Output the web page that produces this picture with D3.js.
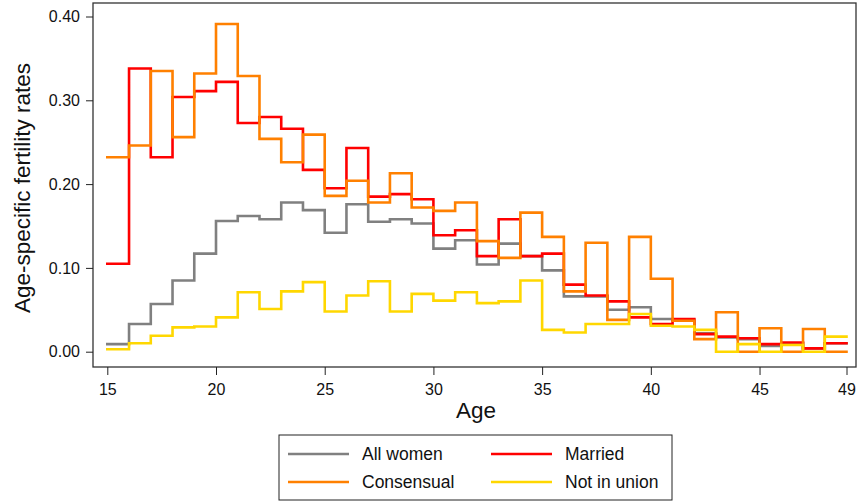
<!DOCTYPE html>
<html><head><meta charset="utf-8">
<script src="https://cdn.jsdelivr.net/npm/d3@7"></script>
<style>body{margin:0;background:#fff}svg{display:block;font-family:"Liberation Sans",Arial,sans-serif}</style>
</head><body><svg id="c" width="859" height="502"></svg>
<script>
const ages = d3.range(15, 49);
const allWomen = [0.009,0.033,0.057,0.085,0.117,0.156,0.162,0.158,0.178,0.169,0.142,0.176,0.155,0.158,0.153,0.123,0.133,0.104,0.129,0.114,0.097,0.066,0.066,0.050,0.053,0.039,0.038,0.022,0.017,0.015,0.007,0.010,0.004,0.010];
const married = [0.105,0.338,0.232,0.304,0.311,0.322,0.273,0.280,0.266,0.217,0.195,0.243,0.185,0.188,0.182,0.139,0.145,0.114,0.158,0.114,0.117,0.080,0.067,0.060,0.041,0.033,0.039,0.021,0.018,0.016,0.009,0.011,0.004,0.010];
const consensual = [0.232,0.246,0.335,0.256,0.332,0.391,0.329,0.254,0.226,0.259,0.186,0.204,0.178,0.213,0.172,0.168,0.178,0.132,0.112,0.166,0.137,0.072,0.130,0.038,0.137,0.087,0.037,0.015,0.047,0.000,0.028,0.000,0.027,0.000];
const notInUnion = [0.003,0.010,0.019,0.029,0.030,0.041,0.071,0.051,0.072,0.083,0.048,0.067,0.084,0.048,0.069,0.061,0.071,0.058,0.060,0.085,0.026,0.023,0.033,0.033,0.045,0.031,0.030,0.026,0.000,0.009,0.000,0.008,0.000,0.018];
const xTicks = [15,20,25,30,35,40,45,49];
const yTicks = [0,0.1,0.2,0.3,0.4];
const seriesNames = ["All women","Married","Consensual","Not in union"];
const seriesColors = ["#808080","#ff0000","#ff8000","#ffd700"];
const seriesData = [allWomen, married, consensual, notInUnion];

const svg = d3.select("#c");
const L = 93, R = 856, T = 3, B = 367;
const x = d3.scaleLinear().domain([15,49]).range([107.3,846.5]);
const y = d3.scaleLinear().domain([0,0.4]).range([351.7,16.5]);
const FF = "Liberation Sans, Arial, sans-serif";

// frame
svg.append("rect").attr("x",L).attr("y",T).attr("width",R-L).attr("height",B-T)
  .attr("fill","none").attr("stroke","#333").attr("stroke-width",1.3);

// y axis
const ya = svg.append("g").attr("transform",`translate(${L},0)`)
  .call(d3.axisLeft(y).tickValues(yTicks).tickFormat(d3.format(".2f")).tickSize(7).tickPadding(6));
ya.select(".domain").remove();
ya.selectAll("line").attr("stroke","#222");
ya.selectAll("text").attr("font-size",16).attr("fill","#111").attr("font-family",FF);

// x axis
const xa = svg.append("g").attr("transform",`translate(0,${B})`)
  .call(d3.axisBottom(x).tickValues(xTicks).tickFormat(d3.format("d")).tickSize(8).tickPadding(9));
xa.select(".domain").remove();
xa.selectAll("line").attr("stroke","#222");
xa.selectAll("text").attr("font-size",16).attr("fill","#111").attr("font-family",FF);

// titles
svg.append("text").attr("transform","translate(30,188) rotate(-90)").attr("text-anchor","middle")
  .attr("font-size",22.5).attr("fill","#111").text("Age-specific fertility rates");
svg.append("text").attr("x",476).attr("y",418).attr("text-anchor","middle")
  .attr("font-size",22.5).attr("fill","#111").text("Age");

// lines
const line = d3.line().x(d=>x(d[0])).y(d=>y(d[1])).curve(d3.curveStepAfter);
seriesData.forEach((vals,i)=>{
  const pts = ages.map((a,j)=>[a, vals[j]]);
  pts.push([ages[ages.length-1]+1, vals[vals.length-1]]);
  svg.append("path").datum(pts).attr("d",line).attr("fill","none")
    .attr("stroke",seriesColors[i]).attr("stroke-width",2.6).attr("stroke-linejoin","miter").attr("stroke-linecap","square");
});

// legend
const lg = svg.append("g");
lg.append("rect").attr("x",279).attr("y",435).attr("width",393).attr("height",65)
  .attr("fill","#fff").attr("stroke","#222").attr("stroke-width",1);
const pos = [[288,454],[491,454],[288,482],[491,482]];
[0,1,2,3].forEach(i=>{
  const [lx,ly] = pos[i];
  lg.append("line").attr("x1",lx).attr("x2",lx+61).attr("y1",ly).attr("y2",ly)
    .attr("stroke",seriesColors[i]).attr("stroke-width",2.6);
  lg.append("text").attr("x",lx+74).attr("y",ly+6).attr("font-size",17.5).attr("fill","#111").attr("font-family",FF).text(seriesNames[i]);
});
</script></body></html>
